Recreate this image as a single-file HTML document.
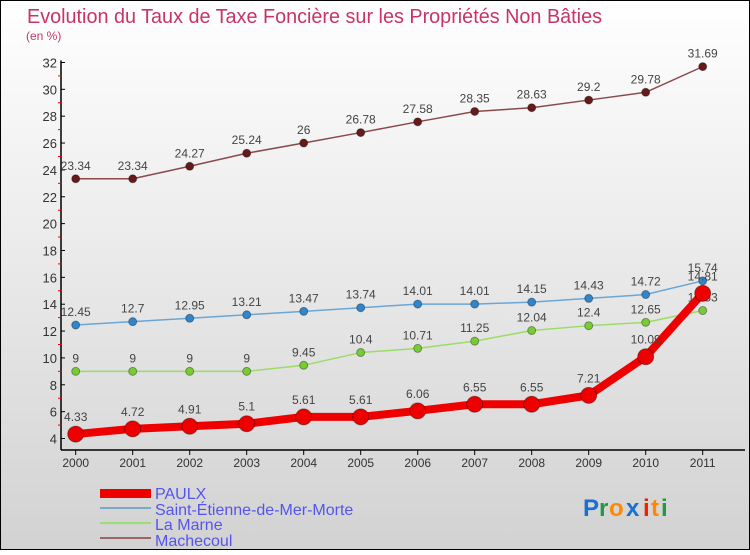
<!DOCTYPE html>
<html><head><meta charset="utf-8"><style>
body{margin:0;width:750px;height:550px;overflow:hidden;font-family:"Liberation Sans",sans-serif}
</style></head><body>
<svg width="750" height="550" xmlns="http://www.w3.org/2000/svg">
<defs><linearGradient id="bg" x1="0" y1="0" x2="0" y2="1"><stop offset="0" stop-color="#ffffff"/><stop offset="1" stop-color="#d2d2d2"/></linearGradient></defs>
<rect x="0.5" y="0.5" width="749" height="549" fill="url(#bg)" stroke="#000"/>
<text x="27" y="23" font-size="20" fill="#c8336a" textLength="575" lengthAdjust="spacingAndGlyphs">Evolution du Taux de Taxe Foncière sur les Propriétés Non Bâties</text>
<text x="26" y="40" font-size="12" fill="#c8336a">(en %)</text>
<g id="axes"></g>
<g id="series"></g>
<g id="legend" font-size="16" fill="#5555ee">
<rect x="100" y="489" width="51" height="9" fill="#ee0000"/>
<text x="155" y="499">PAULX</text>
<rect x="100" y="507" width="51" height="2" fill="#7aaac8"/>
<text x="155" y="515">Saint-Étienne-de-Mer-Morte</text>
<rect x="100" y="522" width="51" height="2" fill="#99dd77"/>
<text x="155" y="530">La Marne</text>
<rect x="100" y="537" width="51" height="2" fill="#996666"/>
<text x="155" y="546">Machecoul</text>
</g>
<g font-size="24" font-weight="bold">
<text x="583" y="516" fill="#1a6fd0">P</text><text x="599" y="516" fill="#229944">r</text><text x="609" y="516" fill="#ff8800">o</text><text x="626" y="516" fill="#1a6fd0">x</text><text x="643" y="516" fill="#ee2200">i</text><text x="651" y="516" fill="#ff8800">t</text><text x="661" y="516" fill="#229944">i</text>
</g>
</svg>
<script>
const years=[2000,2001,2002,2003,2004,2005,2006,2007,2008,2009,2010,2011];
const paulx=[4.33,4.72,4.91,5.1,5.61,5.61,6.06,6.55,6.55,7.21,10.09,14.81];
const stEtienne=[12.45,12.7,12.95,13.21,13.47,13.74,14.01,14.01,14.15,14.43,14.72,15.74];
const laMarne=[9,9,9,9,9.45,10.4,10.71,11.25,12.04,12.4,12.65,13.53];
const machecoul=[23.34,23.34,24.27,25.24,26,26.78,27.58,28.35,28.63,29.2,29.78,31.69];
const yTicks=[4,6,8,10,12,14,16,18,20,22,24,26,28,30,32];
const NS="http://www.w3.org/2000/svg";
const x=i=>75.7+57*i;
const y=v=>438.5-(v-4)*13.43;
function mk(t,a,p){const e=document.createElementNS(NS,t);for(const k in a)e.setAttribute(k,a[k]);p.appendChild(e);return e;}
const ax=document.getElementById('axes');
const yl=mk('line',{x1:61,y1:y(32)-2,x2:61,y2:450,stroke:'#000','stroke-width':1.5},ax);


const xl=mk('line',{x1:61,y1:450,x2:745,y2:450,stroke:'#000','stroke-width':1.5},ax);


yTicks.forEach(v=>{
 mk('line',{x1:61,y1:y(v),x2:65,y2:y(v),stroke:'#000'},ax);
 if(v<32)mk('line',{x1:58,y1:y(v+1),x2:62,y2:y(v+1),stroke:'#e00'},ax);
 const t=mk('text',{x:57,y:y(v)+5,'text-anchor':'end','font-size':13,fill:'#333'},ax);
 t.textContent=v;
 
 
});
years.forEach((yr,i)=>{
 mk('line',{x1:x(i),y1:450,x2:x(i),y2:455,stroke:'#000'},ax);
 const t=mk('text',{x:x(i),y:467,'text-anchor':'middle','font-size':12,fill:'#333'},ax);
 t.textContent=yr;
 
 
});
const sg=document.getElementById('series');
function series(arr,name,col,dot,lw,r){
 const g=mk('g',{},sg);
 
 
 const pl=mk('polyline',{points:arr.map((v,i)=>x(i)+','+y(v)).join(' '),fill:'none',stroke:col,'stroke-width':lw,'stroke-linejoin':'round'},g);
 
 
 arr.forEach((v,i)=>{
  const c=mk('circle',{cx:x(i),cy:y(v),r:r,fill:dot,stroke:'rgba(0,0,0,0.35)','stroke-width':1},g);
  
  
  const t=mk('text',{x:x(i),y:y(v)-(r+5),'text-anchor':'middle','font-size':12,fill:'#444'},g);
  t.textContent=v;
  
  
 });
}
series(machecoul,'machecoul','#8a4a4a','#661a1a',1.5,4);
series(stEtienne,'saint-etienne','#6aa6d6','#2f86cc',1.5,4);
series(laMarne,'la-marne','#99dd66','#77cc33',1.5,4);
series(paulx,'paulx','#ee0000','#ee0000',8,8);
</script>
</body></html>
